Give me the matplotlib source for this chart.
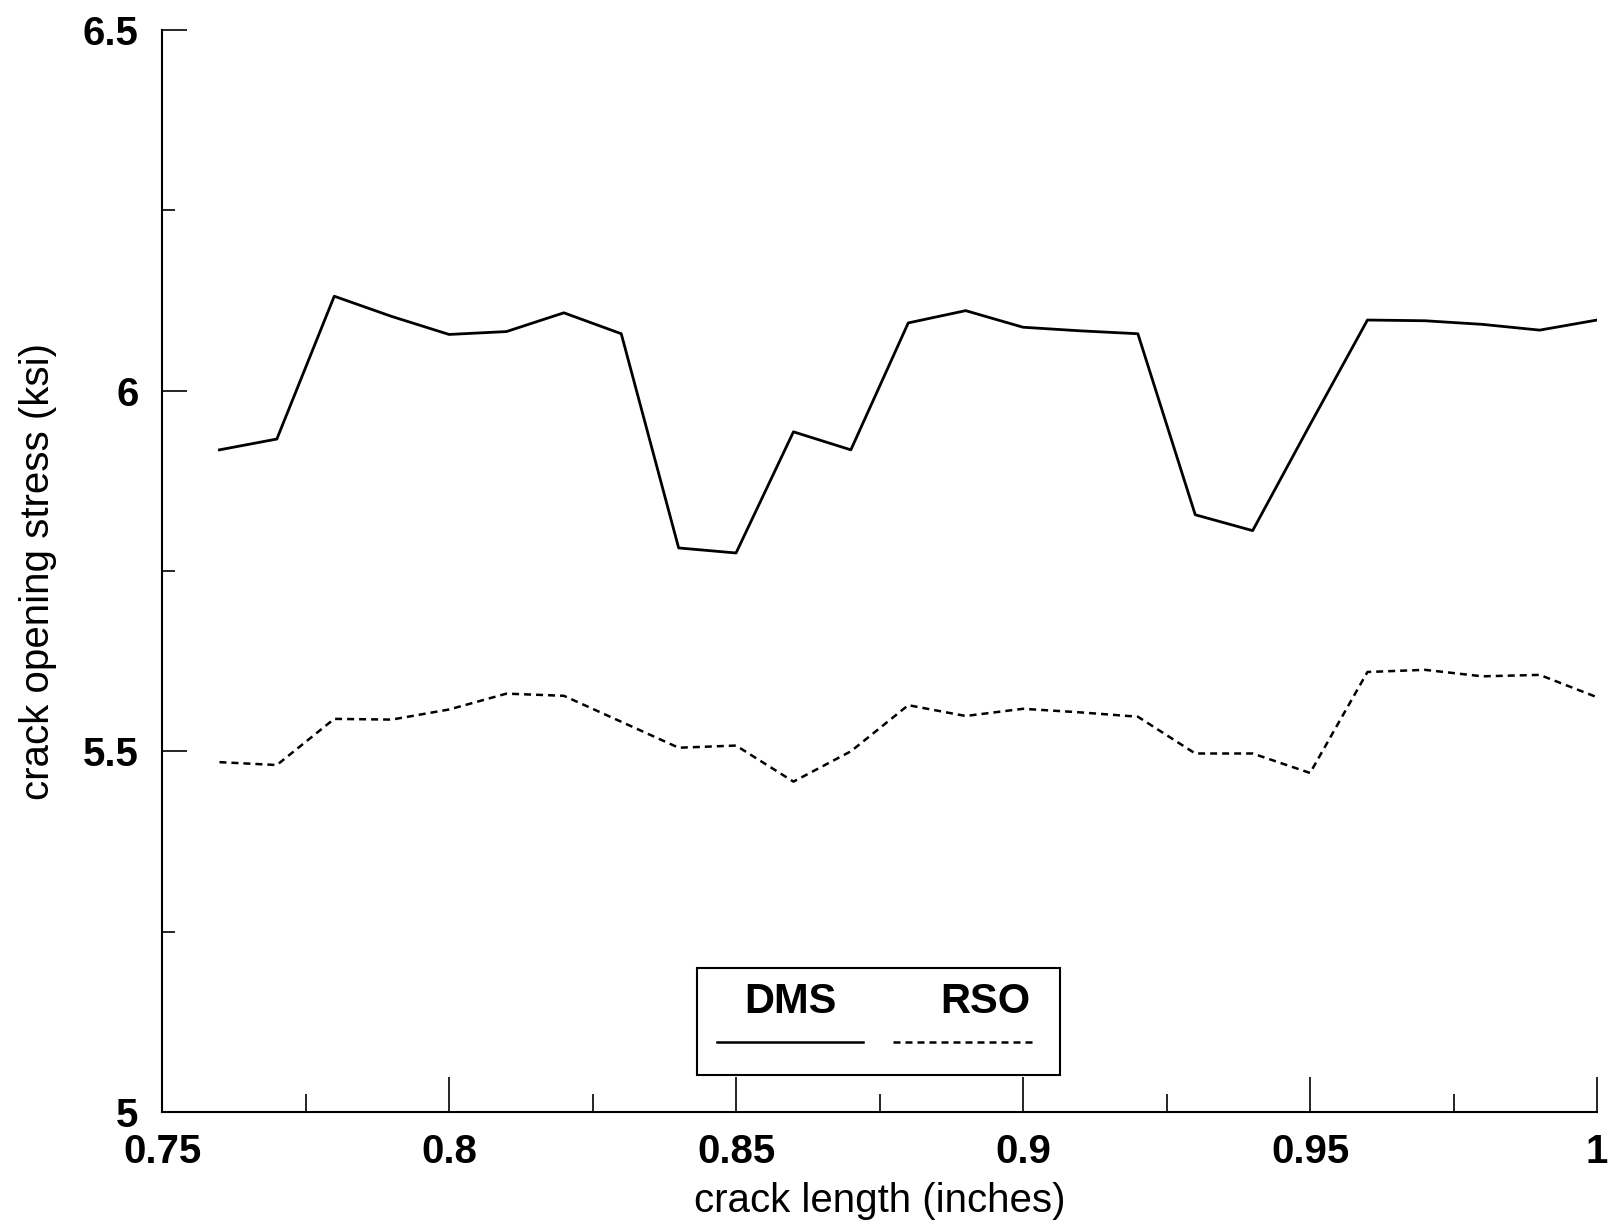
"""Crack opening stress vs crack length, DMS vs RSO (scanned report figure)."""

import matplotlib

matplotlib.use("Agg")
import matplotlib.pyplot as plt  # noqa: E402
from matplotlib.lines import Line2D  # noqa: E402
from matplotlib.patches import Rectangle  # noqa: E402
from matplotlib.ticker import MultipleLocator  # noqa: E402

crack_length = [0.76, 0.77, 0.78, 0.79, 0.80, 0.81, 0.82, 0.83, 0.84, 0.85,
                0.86, 0.87, 0.88, 0.89, 0.90, 0.91, 0.92, 0.93, 0.94, 0.95,
                0.96, 0.97, 0.98, 0.99, 1.00]
dms = [5.918, 5.933, 6.131, 6.103, 6.078, 6.082, 6.108, 6.079, 5.782, 5.775,
       5.943, 5.918, 6.094, 6.111, 6.088, 6.083, 6.079, 5.828, 5.806, 5.953,
       6.098, 6.097, 6.092, 6.084, 6.098]
rso = [5.485, 5.481, 5.545, 5.544, 5.558, 5.580, 5.577, 5.541, 5.505, 5.508,
       5.458, 5.500, 5.564, 5.549, 5.559, 5.554, 5.548, 5.497, 5.497, 5.470,
       5.610, 5.613, 5.604, 5.606, 5.575]

XTICKS = [0.75, 0.8, 0.85, 0.9, 0.95, 1.0]
XTICK_LABELS = ["0.75", "0.8", "0.85", "0.9", "0.95", "1"]
YTICKS = [5.0, 5.5, 6.0, 6.5]
YTICK_LABELS = ["5", "5.5", "6", "6.5"]

plt.rcParams["font.family"] = ["Liberation Sans", "DejaVu Sans"]

fig = plt.figure(figsize=(16.14, 12.28), dpi=100)
ax = fig.add_axes([0.1004, 0.0945, 0.8891, 0.881])

ax.plot(crack_length, dms, color="black", linewidth=2.0)
ax.plot(crack_length, rso, color="black", linewidth=1.8,
        linestyle=(0, (2.8, 2.0)))

ax.set_xlim(0.75, 1.0)
ax.set_ylim(5.0, 6.5)
ax.set_xticks(XTICKS)
ax.set_xticklabels(XTICK_LABELS)
ax.set_yticks(YTICKS)
ax.set_yticklabels(YTICK_LABELS)
ax.xaxis.set_minor_locator(MultipleLocator(0.025))
ax.yaxis.set_minor_locator(MultipleLocator(0.25))

for side in ("top", "right"):
    ax.spines[side].set_visible(False)
for side in ("left", "bottom"):
    ax.spines[side].set_linewidth(1.5)

ax.tick_params(axis="x", which="major", direction="in", length=25, width=1.2,
               pad=15, labelsize=29)
ax.tick_params(axis="x", which="minor", direction="in", length=13, width=1.2)
ax.tick_params(axis="y", which="major", direction="in", length=18, width=1.2,
               pad=17, labelsize=29)
ax.tick_params(axis="y", which="minor", direction="in", length=9, width=1.2)
for lab in ax.get_xticklabels() + ax.get_yticklabels():
    lab.set_fontweight("bold")

ax.set_xlabel("crack length (inches)", fontsize=29, labelpad=8)
ax.set_ylabel("crack opening stress (ksi)", fontsize=29)
ax.yaxis.set_label_coords(-0.073, 0.5)

# legend drawn by hand: labels sit above their line samples
ax.add_patch(Rectangle((0.3726, 0.0342), 0.2532, 0.0989, transform=ax.transAxes,
                       facecolor="white", edgecolor="black", linewidth=1.5,
                       zorder=5))
ax.text(0.4376, 0.1019, "DMS", transform=ax.transAxes, ha="center",
        va="center", fontsize=30, fontweight="bold", zorder=6)
ax.text(0.574, 0.1019, "RSO", transform=ax.transAxes, ha="center",
        va="center", fontsize=30, fontweight="bold", zorder=6)
ax.add_line(Line2D([0.3868, 0.4885], [0.065, 0.065], transform=ax.transAxes,
                   color="black", linewidth=1.8, zorder=6))
ax.add_line(Line2D([0.5094, 0.607], [0.065, 0.065], transform=ax.transAxes,
                   color="black", linewidth=1.8, linestyle=(0, (2.8, 2.0)),
                   zorder=6))

fig.savefig("out.png", dpi=100)
